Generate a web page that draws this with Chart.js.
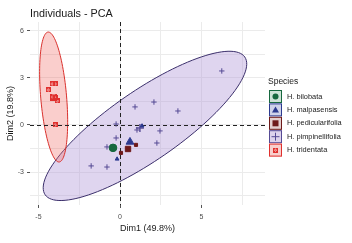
<!DOCTYPE html>
<html>
<head>
<meta charset="utf-8">
<script src="https://cdn.jsdelivr.net/npm/chart.js@4.4.0/dist/chart.umd.min.js"></script>
<style>
  html, body { margin: 0; padding: 0; background: #fff; }
</style>
</head>
<body>
<canvas id="pcaChart" width="352" height="243"></canvas>
<script>
// Species and their individuals (Dim1, Dim2)
const species = ['H. bilobata', 'H. malpasensis', 'H. pedicularifolia', 'H. pimpinellifolia', 'H. tridentata'];

const bilobataX = [-0.43];
const bilobataY = [-1.46];
const malpasensisX = [-0.18, 1.35];
const malpasensisY = [-2.17, -0.06];
const pedicularifoliaX = [0.98, 0.06];
const pedicularifoliaY = [-1.27, -1.78];
const pimpinellifoliaX = [0.92, 2.08, 3.55, 6.24, 1.04, 2.45, 2.26, -0.24, -0.80, -0.80, -1.77, -0.24];
const pimpinellifoliaY = [1.15, 1.46, 0.89, 3.44, -0.32, -0.38, -1.15, -0.83, -1.40, -2.68, -2.61, 0.06];
const tridentataX = [-4.16, -3.98, -4.40, -4.16, -3.98, -3.85, -3.98];
const tridentataY = [2.61, 2.61, 2.23, 1.78, 1.72, 1.53, 0.0];

// group mean points (bigger markers)
const meanX = [-0.43, 0.61, 0.49, 1.22, -4.07];
const meanY = [-1.46, -1.08, -1.53, -0.19, 1.78];

// concentration ellipses: centre and the two half-axis vectors, in data units
const ellipseSpecies = ['H. pimpinellifolia', 'H. tridentata'];
const ellipseCx = [1.53, -4.07];
const ellipseCy = [-0.06, 1.78];
const ellipseAx = [6.12, -0.34];
const ellipseAy = [4.39, 4.14];
const ellipseBx = [1.22, 0.79];
const ellipseBy = [-1.83, 0.07];

// axis ticks
const xGrid = [-5, -2.5, 0, 2.5, 5, 7.5];
const xLabels = [-5, 0, 5];
const yGrid = [-4.5, -3, -1.5, 0, 1.5, 3, 4.5, 6];
const yLabels = [-3, 0, 3, 6];

const colors = ['#17683f', '#2c3a8f', '#6e1a1a', '#554a94', '#e0302e'];
const lightColors = ['#cfe3d7', '#cfd3ea', '#e3cfcf', '#ddd3ec', '#f8cfcd'];
const ellipseFill = { 'H. pimpinellifolia': 'rgba(175,150,215,0.40)', 'H. tridentata': 'rgba(240,105,100,0.33)' };
const ellipseLine = { 'H. pimpinellifolia': '#3b2f6b', 'H. tridentata': '#d9302c' };

// little square-with-cross marker for H. tridentata
function squareCross(size, color) {
  const c = document.createElement('canvas');
  c.width = size; c.height = size;
  const g = c.getContext('2d');
  g.strokeStyle = color;
  g.lineWidth = 1;
  g.strokeRect(0.5, 0.5, size - 1, size - 1);
  g.beginPath();
  g.moveTo(0.5, 0.5); g.lineTo(size - 0.5, size - 0.5);
  g.moveTo(size - 0.5, 0.5); g.lineTo(0.5, size - 0.5);
  g.stroke();
  return c;
}

const styles = ['circle', 'triangle', 'rect', 'cross', squareCross(5, colors[4])];
const bigStyles = ['circle', 'triangle', 'rect', 'cross', squareCross(7, colors[4])];
const radius = [3.5, 2.2, 2.2, 2.7, 3];
const bigRadius = [3.8, 4.5, 3.8, 4, 4];

const xs = [bilobataX, malpasensisX, pedicularifoliaX, pimpinellifoliaX, tridentataX];
const ys = [bilobataY, malpasensisY, pedicularifoliaY, pimpinellifoliaY, tridentataY];

const datasets = [];
species.forEach(function (name, i) {
  datasets.push({
    label: name,
    data: xs[i].map((x, k) => ({ x: x, y: ys[i][k] })),
    pointStyle: styles[i],
    radius: radius[i],
    backgroundColor: colors[i],
    borderColor: colors[i],
    borderWidth: 1
  });
});
species.forEach(function (name, i) {
  datasets.push({
    label: name + ' mean',
    data: [{ x: meanX[i], y: meanY[i] }],
    pointStyle: bigStyles[i],
    radius: bigRadius[i],
    backgroundColor: colors[i],
    borderColor: colors[i],
    borderWidth: i === 3 ? 1.4 : 1
  });
});

// ellipses + dashed zero lines behind the points, title and legend on top
const backdrop = {
  id: 'backdrop',
  beforeDatasetsDraw(chart) {
    const ctx = chart.ctx;
    const sx = chart.scales.x, sy = chart.scales.y;
    const area = chart.chartArea;
    ctx.save();
    ellipseSpecies.forEach(function (name, i) {
      const cx = sx.getPixelForValue(ellipseCx[i]);
      const cy = sy.getPixelForValue(ellipseCy[i]);
      const ax = sx.getPixelForValue(ellipseCx[i] + ellipseAx[i]) - cx;
      const ay = sy.getPixelForValue(ellipseCy[i] + ellipseAy[i]) - cy;
      const bx = sx.getPixelForValue(ellipseCx[i] + ellipseBx[i]) - cx;
      const by = sy.getPixelForValue(ellipseCy[i] + ellipseBy[i]) - cy;
      ctx.beginPath();
      for (let k = 0; k <= 120; k++) {
        const t = k / 120 * Math.PI * 2;
        const px = cx + ax * Math.cos(t) + bx * Math.sin(t);
        const py = cy + ay * Math.cos(t) + by * Math.sin(t);
        if (k === 0) ctx.moveTo(px, py); else ctx.lineTo(px, py);
      }
      ctx.closePath();
      ctx.fillStyle = ellipseFill[name];
      ctx.fill();
      ctx.strokeStyle = ellipseLine[name];
      ctx.lineWidth = 1;
      ctx.stroke();
    });
    // dashed reference lines at 0
    ctx.setLineDash([4, 3]);
    ctx.strokeStyle = '#222';
    ctx.lineWidth = 1;
    const x0 = Math.round(sx.getPixelForValue(0)) + 0.5;
    const y0 = Math.round(sy.getPixelForValue(0)) + 0.5;
    ctx.beginPath();
    ctx.moveTo(x0, area.top); ctx.lineTo(x0, area.bottom);
    ctx.moveTo(area.left, y0); ctx.lineTo(area.right, y0);
    ctx.stroke();
    ctx.restore();
  },
  afterDraw(chart) {
    const ctx = chart.ctx;
    ctx.save();
    // main title
    ctx.fillStyle = '#1a1a1a';
    ctx.font = '10.8px "Liberation Sans", Arial, sans-serif';
    ctx.textBaseline = 'middle';
    ctx.textAlign = 'left';
    ctx.fillText('Individuals - PCA', 30, 14);
    // legend
    ctx.font = '8.5px "Liberation Sans", Arial, sans-serif';
    ctx.fillText('Species', 268, 82);
    ctx.font = '7.4px "Liberation Sans", Arial, sans-serif';
    species.forEach(function (name, i) {
      const top = 90 + i * 13.4;
      ctx.fillStyle = lightColors[i];
      ctx.fillRect(269, top, 13, 13);
      ctx.strokeStyle = colors[i];
      ctx.lineWidth = 1;
      ctx.strokeRect(269.5, top + 0.5, 12, 12);
      const cx = 275.5, cy = top + 6.5;
      ctx.fillStyle = colors[i];
      ctx.strokeStyle = colors[i];
      if (i === 0) {
        ctx.beginPath(); ctx.arc(cx, cy, 3, 0, Math.PI * 2); ctx.fill();
      } else if (i === 1) {
        ctx.beginPath(); ctx.moveTo(cx, cy - 3.5); ctx.lineTo(cx + 3.5, cy + 2.5); ctx.lineTo(cx - 3.5, cy + 2.5); ctx.closePath(); ctx.fill();
      } else if (i === 2) {
        ctx.fillRect(cx - 3, cy - 3, 6, 6);
      } else if (i === 3) {
        ctx.beginPath(); ctx.moveTo(cx - 4, cy); ctx.lineTo(cx + 4, cy); ctx.moveTo(cx, cy - 4); ctx.lineTo(cx, cy + 4); ctx.stroke();
      } else {
        ctx.drawImage(styles[4], cx - 2.5, cy - 2.5);
      }
      ctx.fillStyle = '#1a1a1a';
      ctx.fillText(name, 287, cy);
    });
    ctx.restore();
  }
};

const tickFont = { size: 7, family: '"Liberation Sans", Arial, sans-serif' };
const titleFont = { size: 9, family: '"Liberation Sans", Arial, sans-serif' };

new Chart(document.getElementById('pcaChart').getContext('2d'), {
  type: 'scatter',
  data: { datasets: datasets },
  options: {
    responsive: false,
    animation: false,
    devicePixelRatio: 1,
    layout: { padding: { left: 0, top: 22, right: 87, bottom: 0 } },
    plugins: { legend: { display: false }, tooltip: { enabled: false } },
    scales: {
      x: {
        type: 'linear',
        min: -5.52,
        max: 8.89,
        afterBuildTicks: s => { s.ticks = xGrid.map(v => ({ value: v })); },
        afterFit: s => { s.height = 38; },
        ticks: {
          autoSkip: false, maxRotation: 0, padding: 5, color: '#4d4d4d', font: tickFont,
          callback: v => xLabels.includes(v) ? String(v) : ''
        },
        grid: {
          color: '#ebebeb', lineWidth: 1, tickLength: 3,
          tickColor: c => xLabels.includes(c.tick && c.tick.value) ? '#555' : 'rgba(0,0,0,0)'
        },
        border: { display: false },
        title: { display: true, text: 'Dim1 (49.8%)', color: '#1a1a1a', font: titleFont, padding: { top: 0, bottom: 9.5 } }
      },
      y: {
        type: 'linear',
        min: -5.10,
        max: 6.56,
        afterBuildTicks: s => { s.ticks = yGrid.map(v => ({ value: v })); },
        afterFit: s => { s.width = 30; },
        ticks: {
          autoSkip: false, padding: 3, color: '#4d4d4d', font: tickFont,
          callback: v => yLabels.includes(v) ? String(v) : ''
        },
        grid: {
          color: '#ebebeb', lineWidth: 1, tickLength: 3,
          tickColor: c => yLabels.includes(c.tick && c.tick.value) ? '#555' : 'rgba(0,0,0,0)'
        },
        border: { display: false },
        title: { display: true, text: 'Dim2 (19.8%)', color: '#1a1a1a', font: titleFont, padding: { top: 5, bottom: 0 } }
      }
    }
  },
  plugins: [backdrop]
});
</script>
</body>
</html>
